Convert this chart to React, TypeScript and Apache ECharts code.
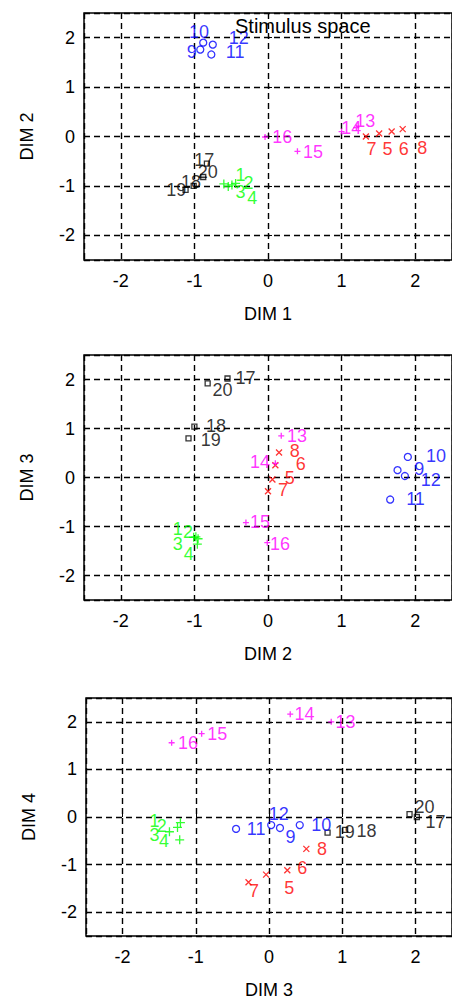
import React, { useEffect, useRef } from "react";
import * as echarts from "echarts";

// Stimulus numbers
const names = ["1","2","3","4","5","6","7","8","9","10","11","12","13","14","15","16","17","18","19","20"];

// Stimulus coordinates in the 4-D space
const dim1 = [-0.44, -0.49, -0.60, -0.54, 1.51, 1.68, 1.33, 1.83, -0.92, -0.88, -0.77, -0.75, 1.20, 1.00, 0.40, -0.04, -0.83, -1.01, -1.12, -0.88];
const dim2 = [-0.95, -0.98, -0.96, -1.01, 0.06, 0.10, 0.00, 0.15, 1.76, 1.90, 1.66, 1.86, 0.18, 0.10, -0.30, -0.01, -0.55, -1.00, -1.08, -0.82];
const dim3 = [-1.25, -1.21, -1.36, -1.22, -0.04, 0.25, -0.28, 0.51, 0.15, 0.42, -0.45, 0.03, 0.85, 0.29, -0.92, -1.33, 2.02, 1.04, 0.80, 1.92];
const dim4 = [-0.22, -0.12, -0.31, -0.48, -1.21, -1.12, -1.37, -0.67, -0.23, -0.17, -0.25, -0.17, 2.00, 2.16, 1.75, 1.56, 0.00, -0.27, -0.33, 0.06];

// Text label anchors (data coordinates) per panel
const lab1X = [-0.45, -0.34, -0.45, -0.29, 1.55, 1.77, 1.33, 2.02, -1.11, -1.08, -0.58, -0.54, 1.18, 0.99, 0.47, 0.05, -1.01, -1.19, -1.39, -0.96];
const lab1Y = [-0.78, -0.94, -1.13, -1.25, -0.25, -0.25, -0.25, -0.23, 1.72, 2.11, 1.72, 1.99, 0.31, 0.18, -0.31, 0.0, -0.47, -0.92, -1.09, -0.72];
const lab2X = [-1.30, -1.16, -1.30, -1.15, 0.22, 0.37, 0.13, 0.29, 1.98, 2.14, 1.87, 2.07, 0.25, -0.25, -0.25, 0.02, -0.45, -0.85, -0.92, -0.76];
const lab2Y = [-1.06, -1.12, -1.36, -1.56, 0.0, 0.27, -0.25, 0.54, 0.17, 0.44, -0.44, -0.06, 0.85, 0.31, -0.91, -1.35, 2.04, 1.06, 0.77, 1.79];
const lab3X = [-1.64, -1.54, -1.64, -1.51, 0.20, 0.38, -0.28, 0.65, 0.22, 0.57, -0.31, -0.01, 0.90, 0.34, -0.85, -1.25, 2.13, 1.19, 0.89, 1.98];
const lab3Y = [-0.08, -0.19, -0.37, -0.50, -1.50, -1.08, -1.56, -0.67, -0.42, -0.17, -0.25, 0.06, 2.0, 2.16, 1.75, 1.56, -0.10, -0.29, -0.31, 0.21];

const axisNames = ["DIM 1", "DIM 2", "DIM 3", "DIM 4"];
const titleText = "Stimulus space";

const PLUS = "path://M0,5L10,5M5,0L5,10";
const CROSS = "path://M0,0L10,10M10,0L0,10";

const groups = [
  { members: [0, 1, 2, 3], color: "#00ff00", symbol: PLUS, size: 9 },
  { members: [4, 5, 6, 7], color: "#ff0000", symbol: CROSS, size: 6 },
  { members: [8, 9, 10, 11], color: "#0000ff", symbol: "circle", size: 7 },
  { members: [12, 13, 14, 15], color: "#ff00ff", symbol: PLUS, size: 6 },
  { members: [16, 17, 18, 19], color: "#000000", symbol: "rect", size: 5 },
];

const FONT = "'Liberation Sans', Arial, sans-serif";

export default function App() {
  const ref = useRef<HTMLDivElement>(null);
  useEffect(() => {
    if (!ref.current) return;
    const chart = echarts.init(ref.current, null, { renderer: "svg" });
    const panels = [
      { xs: dim1, ys: dim2, lx: lab1X, ly: lab1Y, xn: axisNames[0], yn: axisNames[1] },
      { xs: dim2, ys: dim3, lx: lab2X, ly: lab2Y, xn: axisNames[1], yn: axisNames[2] },
      { xs: dim3, ys: dim4, lx: lab3X, ly: lab3Y, xn: axisNames[2], yn: axisNames[3] },
    ];
    const gridBoxes = [
      { left: 84, top: 13, height: 247 },
      { left: 84, top: 355, height: 245 },
      { left: 86, top: 698, height: 240 },
    ];
    const grids = gridBoxes.map((g) => ({
      ...g,
      right: -2,
      show: true,
      borderColor: "#000",
      borderWidth: 1.5,
      backgroundColor: "transparent",
      containLabel: false,
    }));
    const common = (p: number, name: string) => ({
      gridIndex: p,
      type: "value",
      min: -2.5,
      max: 2.5,
      splitNumber: 5,
      name,
      nameLocation: "middle",
      nameTextStyle: { fontSize: 18, color: "#000", fontFamily: FONT },
      axisLine: { show: false },
      axisTick: { show: true, inside: true, length: 4, lineStyle: { color: "#000", width: 1 } },
      axisLabel: {
        showMinLabel: false,
        showMaxLabel: false,
        fontSize: 18,
        color: "#000",
        fontFamily: FONT,
      },
      splitLine: { show: true, lineStyle: { color: "#000", type: [6, 4], width: 1.4 } },
    });
    const xAxes = panels.map((pn, p) => {
      const a: any = common(p, pn.xn);
      a.nameGap = 45;
      a.axisLabel.margin = 12;
      return a;
    });
    const yAxes = panels.map((pn, p) => {
      const a: any = common(p, pn.yn);
      a.nameGap = 48;
      a.axisLabel.margin = 9;
      return a;
    });
    const series: any[] = [];
    panels.forEach((pn, p) => {
      groups.forEach((g) => {
        series.push({
          type: "scatter",
          xAxisIndex: p,
          yAxisIndex: p,
          silent: true,
          symbol: g.symbol,
          symbolSize: g.size,
          itemStyle: { color: "transparent", borderColor: g.color, borderWidth: 1.3 },
          data: g.members.map((i) => [pn.xs[i], pn.ys[i]]),
          z: 3,
        });
        series.push({
          type: "scatter",
          xAxisIndex: p,
          yAxisIndex: p,
          silent: true,
          symbol: "circle",
          symbolSize: 1,
          itemStyle: { color: "transparent" },
          label: {
            show: true,
            position: "right",
            distance: 0,
            formatter: (pp: any) => pp.value[2],
            color: g.color,
            fontSize: 18,
            fontFamily: FONT,
          },
          data: g.members.map((i) => [pn.lx[i], pn.ly[i], names[i]]),
          z: 4,
        });
      });
    });
    chart.setOption({
      animation: false,
      backgroundColor: "#fff",
      title: {
        text: titleText,
        left: 230,
        top: 11,
        textStyle: { fontSize: 20, fontWeight: "normal", color: "#000", fontFamily: FONT },
      },
      grid: grids,
      xAxis: xAxes,
      yAxis: yAxes,
      series,
    });
    return () => chart.dispose();
  }, []);
  return (
    <div
      ref={ref}
      style={{ position: "absolute", left: 0, top: 0, width: 452, height: 1000 }}
    />
  );
}
